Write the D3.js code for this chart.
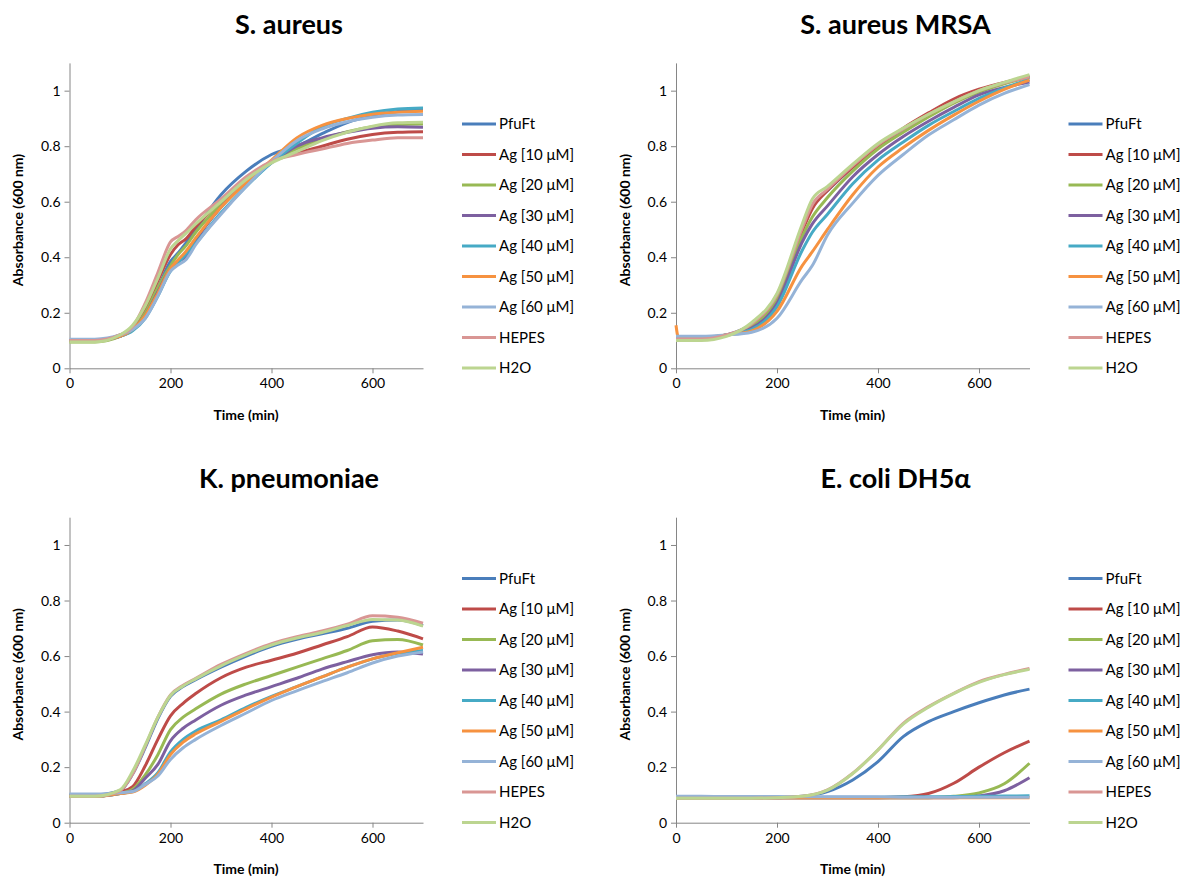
<!DOCTYPE html>
<html><head><meta charset="utf-8">
<script src="https://cdn.jsdelivr.net/npm/d3@7"></script>
<style>
body{margin:0;background:#fff;}
text{font-family:Lato,"Open Sans",sans-serif;}
</style></head>
<body><svg id="c" width="1186" height="878"></svg>
<script>
// ---- data ----
const seriesNames = ["PfuFt","Ag [10 μM]","Ag [20 μM]","Ag [30 μM]","Ag [40 μM]","Ag [50 μM]","Ag [60 μM]","HEPES","H2O"];
const seriesColors = ["#4A7EBB","#BE4B48","#98B954","#7D60A0","#46AAC5","#F69240","#95B3D7","#D99694","#BCD590"];
const panelTitles = ["S. aureus","S. aureus MRSA","K. pneumoniae","E. coli DH5α"];
const xTicks = [0,200,400,600];
const yTicks = [0,0.2,0.4,0.6,0.8,1];
const yTickLabels = ["0","0.2","0.4","0.6","0.8","1"];

const timeSA = [0,50,100,125,150,175,200,215,230,250,300,350,400,450,500,550,600,650,700];
const valuesSA = [
 [0.10,0.10,0.115,0.14,0.20,0.29,0.385,0.415,0.45,0.50,0.625,0.71,0.77,0.80,0.845,0.885,0.91,0.925,0.93],
 [0.10,0.10,0.12,0.145,0.215,0.315,0.41,0.445,0.465,0.51,0.60,0.68,0.745,0.775,0.80,0.825,0.842,0.85,0.852],
 [0.095,0.095,0.115,0.14,0.20,0.29,0.37,0.41,0.44,0.49,0.59,0.675,0.745,0.79,0.825,0.852,0.87,0.878,0.88],
 [0.10,0.10,0.115,0.14,0.19,0.275,0.36,0.385,0.40,0.46,0.58,0.67,0.74,0.80,0.83,0.85,0.865,0.87,0.868],
 [0.10,0.10,0.115,0.135,0.18,0.26,0.35,0.38,0.41,0.45,0.56,0.655,0.74,0.81,0.87,0.90,0.922,0.934,0.938],
 [0.10,0.10,0.115,0.14,0.19,0.27,0.36,0.39,0.42,0.47,0.58,0.67,0.75,0.83,0.875,0.90,0.915,0.922,0.926],
 [0.105,0.105,0.12,0.14,0.18,0.26,0.35,0.372,0.39,0.445,0.555,0.655,0.745,0.82,0.862,0.888,0.904,0.912,0.914],
 [0.10,0.10,0.12,0.15,0.235,0.345,0.455,0.475,0.495,0.535,0.61,0.69,0.745,0.77,0.79,0.81,0.822,0.83,0.83],
 [0.095,0.095,0.12,0.155,0.225,0.325,0.43,0.46,0.485,0.52,0.60,0.68,0.74,0.78,0.82,0.85,0.872,0.884,0.886]
];

const timeMRSA = [0,5,50,100,150,200,250,270,300,350,400,450,500,550,600,650,700];
const valuesMRSA = [
 [0.105,0.105,0.105,0.12,0.16,0.26,0.50,0.585,0.64,0.725,0.80,0.86,0.912,0.958,0.998,1.028,1.052],
 [0.11,0.11,0.11,0.12,0.155,0.258,0.495,0.575,0.64,0.725,0.80,0.865,0.92,0.97,1.005,1.03,1.048],
 [0.11,0.11,0.11,0.12,0.15,0.246,0.475,0.545,0.615,0.71,0.79,0.85,0.905,0.955,0.995,1.025,1.05],
 [0.11,0.11,0.11,0.12,0.145,0.234,0.455,0.52,0.585,0.69,0.77,0.835,0.89,0.94,0.985,1.012,1.03],
 [0.11,0.11,0.11,0.12,0.14,0.222,0.425,0.49,0.555,0.665,0.75,0.815,0.875,0.925,0.972,1.01,1.04],
 [0.155,0.11,0.11,0.12,0.135,0.205,0.37,0.42,0.50,0.625,0.725,0.795,0.857,0.912,0.962,1.005,1.038],
 [0.115,0.115,0.115,0.12,0.13,0.18,0.32,0.37,0.48,0.595,0.695,0.77,0.84,0.895,0.948,0.99,1.022],
 [0.105,0.105,0.105,0.12,0.16,0.265,0.505,0.59,0.645,0.73,0.805,0.862,0.915,0.96,1.0,1.028,1.05],
 [0.10,0.10,0.10,0.115,0.165,0.27,0.52,0.61,0.655,0.735,0.81,0.865,0.915,0.96,1.0,1.03,1.058]
];

const timeKP = [0,50,100,125,150,175,200,225,250,300,350,400,450,500,550,600,650,700];
const valuesKP = [
 [0.10,0.10,0.115,0.175,0.27,0.375,0.455,0.49,0.515,0.56,0.60,0.635,0.66,0.68,0.70,0.725,0.73,0.71],
 [0.095,0.095,0.11,0.13,0.205,0.30,0.385,0.43,0.465,0.522,0.56,0.585,0.61,0.64,0.67,0.705,0.69,0.662],
 [0.095,0.095,0.105,0.12,0.172,0.245,0.335,0.38,0.41,0.463,0.50,0.53,0.56,0.59,0.62,0.655,0.66,0.64],
 [0.095,0.095,0.105,0.115,0.16,0.21,0.295,0.34,0.37,0.423,0.46,0.49,0.52,0.553,0.58,0.605,0.615,0.607],
 [0.095,0.095,0.105,0.112,0.14,0.18,0.255,0.30,0.33,0.37,0.415,0.455,0.49,0.525,0.56,0.59,0.61,0.62],
 [0.095,0.095,0.105,0.11,0.135,0.175,0.245,0.29,0.32,0.365,0.41,0.452,0.49,0.525,0.56,0.59,0.612,0.632],
 [0.103,0.103,0.108,0.112,0.138,0.168,0.228,0.27,0.30,0.35,0.395,0.44,0.475,0.508,0.54,0.575,0.60,0.615],
 [0.095,0.095,0.115,0.175,0.275,0.38,0.46,0.495,0.52,0.57,0.61,0.645,0.67,0.69,0.715,0.745,0.74,0.718],
 [0.095,0.095,0.118,0.185,0.28,0.38,0.458,0.492,0.518,0.565,0.605,0.64,0.665,0.685,0.71,0.732,0.73,0.708]
];

const timeEC = [0,50,100,150,200,250,300,350,400,450,500,550,600,650,700];
const valuesEC = [
 [0.09,0.09,0.09,0.09,0.09,0.095,0.112,0.154,0.22,0.31,0.364,0.40,0.432,0.46,0.481],
 [0.09,0.09,0.09,0.09,0.09,0.09,0.09,0.09,0.09,0.093,0.105,0.142,0.20,0.252,0.294],
 [0.09,0.09,0.09,0.09,0.09,0.09,0.09,0.09,0.09,0.09,0.09,0.095,0.107,0.14,0.214],
 [0.09,0.09,0.09,0.09,0.09,0.09,0.09,0.09,0.09,0.09,0.09,0.09,0.096,0.115,0.162],
 [0.092,0.092,0.092,0.092,0.092,0.092,0.092,0.092,0.092,0.093,0.093,0.094,0.095,0.096,0.097],
 [0.09,0.09,0.09,0.09,0.09,0.09,0.09,0.09,0.09,0.09,0.09,0.09,0.09,0.09,0.09],
 [0.095,0.095,0.094,0.094,0.094,0.093,0.093,0.093,0.093,0.092,0.092,0.092,0.092,0.092,0.092],
 [0.088,0.088,0.088,0.088,0.09,0.095,0.118,0.178,0.262,0.358,0.418,0.466,0.508,0.534,0.555],
 [0.088,0.088,0.088,0.088,0.09,0.095,0.117,0.177,0.262,0.355,0.416,0.465,0.505,0.533,0.552]
];

// ---- drawing ----
const svg = d3.select("#c");
const panels = [
  {title:panelTitles[0], times:timeSA, vals:valuesSA, left:69.5, top:62.9, bottom:368.3, ox:0, oy:0},
  {title:panelTitles[1], times:timeMRSA, vals:valuesMRSA, left:676, top:62.9, bottom:368.3, ox:606.5, oy:0},
  {title:panelTitles[2], times:timeKP, vals:valuesKP, left:69.5, top:517.2, bottom:822.7, ox:0, oy:454.4},
  {title:panelTitles[3], times:timeEC, vals:valuesEC, left:676, top:517.2, bottom:822.7, ox:606.5, oy:454.4}
];
const axisColor = "#868686";

panels.forEach(p => {
  const x = d3.scaleLinear().domain([0,700]).range([p.left, p.left+353.5]);
  const y = d3.scaleLinear().domain([0,1.1]).range([p.bottom, p.top]);
  const g = svg.append("g");

  // title
  g.append("text").attr("x", 289 + p.ox).attr("y", 34 + p.oy)
    .attr("text-anchor","middle").attr("font-size","27px").attr("font-weight","bold")
    .text(p.title);

  // y axis
  const ya = g.append("g").attr("transform",`translate(${p.left},0)`)
    .call(d3.axisLeft(y).tickValues(yTicks).tickFormat((d,i)=>yTickLabels[i]).tickSize(5).tickPadding(4).tickSizeOuter(0));
  ya.select(".domain").attr("stroke",axisColor);
  ya.selectAll(".tick line").attr("stroke",axisColor);
  ya.selectAll(".tick text").attr("font-size","14px").attr("fill","#000").attr("font-family","Lato, sans-serif");

  // x axis
  const xa = g.append("g").attr("transform",`translate(0,${p.bottom})`)
    .call(d3.axisBottom(x).tickValues(xTicks).tickSize(5).tickPadding(5).tickSizeOuter(0));
  xa.select(".domain").attr("stroke",axisColor);
  xa.selectAll(".tick line").attr("stroke",axisColor);
  xa.selectAll(".tick text").attr("font-size","14px").attr("fill","#000").attr("font-family","Lato, sans-serif");

  // axis titles
  g.append("text").attr("transform",`translate(${23+p.ox},${220+p.oy}) rotate(-90)`)
    .attr("text-anchor","middle").attr("font-size","14px").attr("font-weight","bold")
    .text("Absorbance (600 nm)");
  g.append("text").attr("x", 246 + p.ox).attr("y", 420 + p.oy)
    .attr("text-anchor","middle").attr("font-size","14px").attr("font-weight","bold")
    .text("Time (min)");

  // lines
  const line = d3.line().curve(d3.curveMonotoneX).x(d=>x(d[0])).y(d=>y(d[1]));
  p.vals.forEach((vs,i) => {
    const pts = p.times.map((t,j)=>[t, vs[j]]);
    g.append("path").attr("d", line(pts)).attr("fill","none")
      .attr("stroke", seriesColors[i]).attr("stroke-width", 3).attr("stroke-linejoin","round");
  });

  // legend
  const lg = g.append("g").attr("transform",`translate(${462+p.ox},${124+p.oy})`);
  seriesNames.forEach((n,i) => {
    const yy = i*30.5;
    lg.append("line").attr("x1",0).attr("x2",34).attr("y1",yy).attr("y2",yy)
      .attr("stroke",seriesColors[i]).attr("stroke-width",3);
    lg.append("text").attr("x",37).attr("y",yy).attr("dy","0.35em")
      .attr("font-size","15px").text(n);
  });
});
</script></body></html>
